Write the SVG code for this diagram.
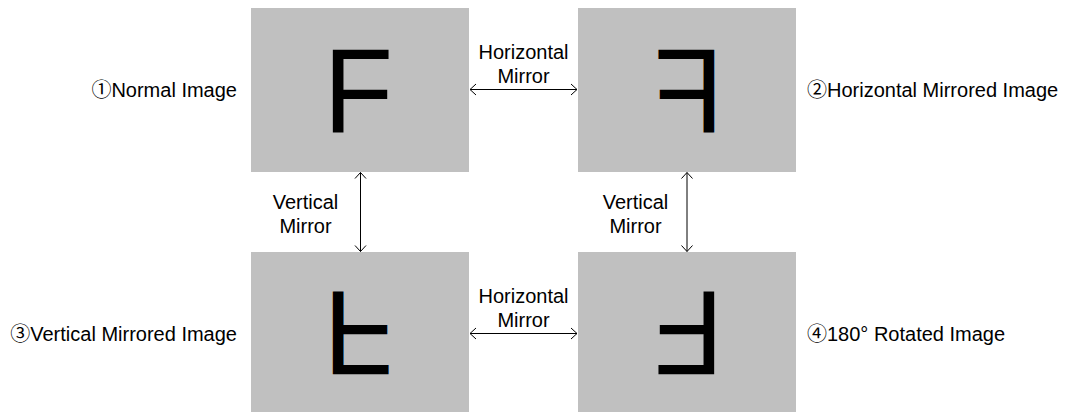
<svg xmlns="http://www.w3.org/2000/svg" width="1066" height="412" viewBox="0 0 1066 412">
<style>
.box{fill:#c0c0c0}
.f{font-family:"Liberation Sans",Arial,sans-serif;font-size:120px;fill:#000}
.lbl{font-family:"Liberation Sans",Arial,"Noto Sans CJK JP",sans-serif;font-size:20px;fill:#000}
.c{text-anchor:middle}
.e{text-anchor:end}
.conn{stroke:#000;stroke-width:1;fill:none;marker-start:url(#ah);marker-end:url(#ah)}
</style>
<defs>
<marker id="ah" markerUnits="userSpaceOnUse" viewBox="-8 -8 16 16" markerWidth="16" markerHeight="16" refX="0" refY="0" orient="auto-start-reverse">
<path d="M-6,-5.5 L0,0 L-6,5.5" fill="none" stroke="#000" stroke-width="1"/>
</marker>
</defs>
<rect width="1066" height="412" fill="#fff"/>
<g id="node1">
<rect class="box" x="251" y="8" width="218" height="164"/>
<g transform="translate(360,90) scale(0.95,1)"><text class="f" x="-38.4" y="43">F</text></g>
<text class="lbl e" x="237" y="97">①Normal Image</text>
</g>
<g id="node2">
<rect class="box" x="578" y="8" width="218" height="164"/>
<g transform="translate(687,90) scale(-0.95,1)"><text class="f" x="-38.4" y="43">F</text></g>
<text class="lbl" x="807" y="97">②Horizontal Mirrored Image</text>
</g>
<g id="node3">
<rect class="box" x="251" y="252" width="218" height="164"/>
<g transform="translate(360,334) scale(0.95,-1)"><text class="f" x="-38.4" y="43">F</text></g>
<text class="lbl e" x="237" y="341">③Vertical Mirrored Image</text>
</g>
<g id="node4">
<rect class="box" x="578" y="252" width="218" height="164"/>
<g transform="translate(687,334) scale(-0.95,-1)"><text class="f" x="-38.4" y="43">F</text></g>
<text class="lbl" x="807" y="341">④180° Rotated Image</text>
</g>
<g id="connectors">
<line class="conn" x1="470" y1="89.5" x2="577" y2="89.5"/>
<line class="conn" x1="470" y1="333.5" x2="577" y2="333.5"/>
<line class="conn" x1="360.5" y1="172.5" x2="360.5" y2="251.5"/>
<line class="conn" x1="687" y1="172.5" x2="687" y2="251.5"/>
<text class="lbl c" x="523.5" y="59">Horizontal</text>
<text class="lbl c" x="523.5" y="83">Mirror</text>
<text class="lbl c" x="523.5" y="303">Horizontal</text>
<text class="lbl c" x="523.5" y="327">Mirror</text>
<text class="lbl c" x="305.5" y="208.5">Vertical</text>
<text class="lbl c" x="305.5" y="232.5">Mirror</text>
<text class="lbl c" x="635.5" y="209">Vertical</text>
<text class="lbl c" x="635.5" y="233">Mirror</text>
</g>
</svg>
